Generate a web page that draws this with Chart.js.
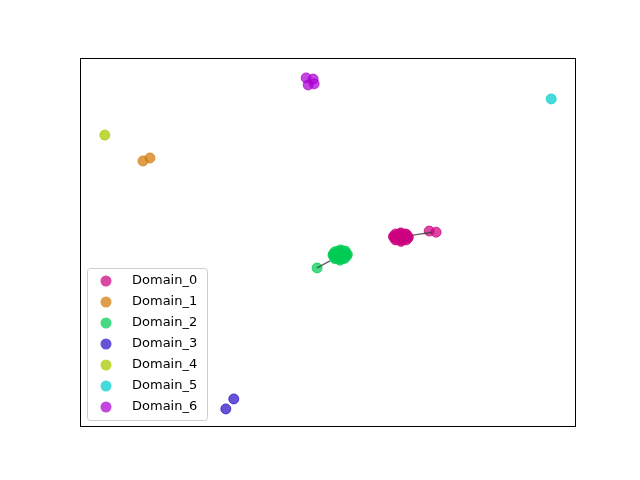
<!DOCTYPE html>
<html>
<head>
<meta charset="utf-8">
<script src="https://cdn.jsdelivr.net/npm/chart.js@4/dist/chart.umd.min.js"></script>
<style>
  html, body { margin: 0; padding: 0; background: #fff; }
  #wrap { width: 640px; height: 480px; }
</style>
</head>
<body>
<div id="wrap"><canvas id="chart" width="640" height="480"></canvas></div>
<script>
const domainNames = ["Domain_0", "Domain_1", "Domain_2", "Domain_3", "Domain_4", "Domain_5", "Domain_6"];

const domainColors = [
  "rgba(204, 0, 128, 0.72)",
  "rgba(212, 126, 16, 0.75)",
  "rgba(0, 204, 85, 0.72)",
  "rgba(40, 16, 200, 0.72)",
  "rgba(168, 204, 0, 0.75)",
  "rgba(0, 204, 204, 0.72)",
  "rgba(170, 0, 210, 0.72)",
];

const domain0Points = [
  [64.7, 51.5], [63.5, 51.3], [65.9, 51.7], [64.2, 52.2], [65.2, 50.8],
  [63.8, 50.9], [65.6, 52.3], [64.9, 51.9], [64.3, 51.0], [63.3, 51.8],
  [66.1, 51.2], [64.6, 52.4], [64.8, 50.6],
  [63.2, 51.5], [66.2, 51.5], [64.7, 52.6], [64.7, 50.3], [63.6, 52.3],
  [65.8, 52.2], [63.6, 50.7], [65.8, 50.7], [64.0, 51.6], [65.4, 51.4],
  [70.4, 53.1], [71.8, 52.8],
];
const domain1Points = [[12.7, 72.1], [14.1, 72.9]];
const domain2Points = [
  [52.4, 46.6], [51.2, 46.2], [53.6, 47.0], [52.0, 47.6], [52.9, 45.6],
  [51.5, 45.9], [53.3, 47.5], [52.6, 47.1], [51.9, 46.0], [51.1, 46.9],
  [53.8, 46.4], [52.3, 45.5], [52.8, 47.7],
  [51.0, 46.6], [53.9, 46.8], [52.5, 48.0], [52.4, 45.2], [51.4, 47.5],
  [53.5, 47.7], [51.4, 45.6], [53.4, 45.7], [52.1, 46.8], [53.0, 46.3],
  [47.8, 43.1],
];
const domain3Points = [[29.4, 4.9], [31.0, 7.6]];
const domain4Points = [[5.0, 79.1]];
const domain5Points = [[95.0, 88.9]];
const domain6Points = [[45.6, 94.6], [47.0, 94.3], [46.0, 92.7], [47.2, 93.0]];

const allDomainPoints = [
  domain0Points, domain1Points, domain2Points, domain3Points,
  domain4Points, domain5Points, domain6Points,
];

// short links from a cluster to its stray points
const linkSegments = [
  [[67.1, 52.0], [71.0, 52.8]],
  [[47.8, 43.1], [50.4, 45.0]],
];

const toXY = (p) => ({ x: p[0], y: p[1] });

const datasets = [];
allDomainPoints.forEach((pts, i) => {
  datasets.push({
    type: "scatter",
    label: domainNames[i],
    data: pts.map(toXY),
    backgroundColor: domainColors[i],
    borderColor: domainColors[i],
    borderWidth: 1,
    pointRadius: 5,
    pointHoverRadius: 5,
    order: 2,
  });
});
linkSegments.forEach((seg) => {
  datasets.push({
    type: "line",
    label: "",
    data: seg.map(toXY),
    borderColor: "rgba(60, 60, 60, 0.8)",
    borderWidth: 1.5,
    pointRadius: 0,
    fill: false,
    order: 1,
  });
});

const framePlugin = {
  id: "frame",
  afterDraw(chart) {
    const { ctx, chartArea } = chart;
    ctx.save();
    ctx.strokeStyle = "#000";
    ctx.lineWidth = 1;
    ctx.strokeRect(chartArea.left + 0.5, chartArea.top + 0.5,
      chartArea.right - chartArea.left - 1, chartArea.bottom - chartArea.top - 1);

    // legend box in the lower left
    const bx = 87.5, by = 268.5, bw = 120, bh = 152, r = 3;
    ctx.beginPath();
    ctx.moveTo(bx + r, by);
    ctx.arcTo(bx + bw, by, bx + bw, by + bh, r);
    ctx.arcTo(bx + bw, by + bh, bx, by + bh, r);
    ctx.arcTo(bx, by + bh, bx, by, r);
    ctx.arcTo(bx, by, bx + bw, by, r);
    ctx.closePath();
    ctx.fillStyle = "rgba(255,255,255,0.8)";
    ctx.fill();
    ctx.strokeStyle = "#cccccc";
    ctx.stroke();

    ctx.font = '13px "DejaVu Sans"';
    ctx.textBaseline = "middle";
    domainNames.forEach((name, i) => {
      const y = 281 + i * 21;
      ctx.beginPath();
      ctx.arc(106, y, 5.5, 0, Math.PI * 2);
      ctx.fillStyle = domainColors[i];
      ctx.fill();
      ctx.fillStyle = "#000";
      ctx.fillText(name, 132, y);
    });
    ctx.restore();
  },
};

new Chart(document.getElementById("chart"), {
  data: { datasets },
  options: {
    responsive: false,
    animation: false,
    layout: { padding: { left: 80, top: 58, right: 64, bottom: 53 } },
    plugins: { legend: { display: false }, tooltip: { enabled: false } },
    scales: {
      x: { type: "linear", min: 0, max: 100, display: false },
      y: { type: "linear", min: 0, max: 100, display: false },
    },
  },
  plugins: [framePlugin],
});
</script>
</body>
</html>
